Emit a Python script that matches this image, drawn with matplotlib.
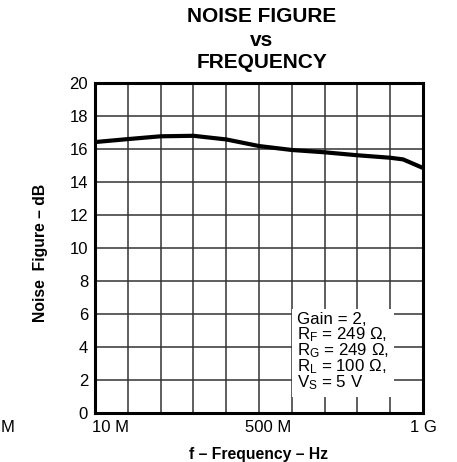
import matplotlib
matplotlib.use("Agg")
import matplotlib.pyplot as plt
import numpy as np
from matplotlib.transforms import ScaledTranslation

plt.rcParams['font.family'] = ['Liberation Sans', 'DejaVu Sans']
plt.rcParams['mathtext.fontset'] = 'custom'
plt.rcParams['mathtext.rm'] = 'Liberation Sans'
plt.rcParams['mathtext.it'] = 'Liberation Sans'
plt.rcParams['mathtext.bf'] = 'Liberation Sans:bold'

# Data (frequency in MHz, noise figure in dB)
freq_mhz = [10, 109, 208, 307, 406, 505, 604, 703, 802, 901, 940, 1000]
noise_db = [16.42, 16.6, 16.77, 16.8, 16.58, 16.18, 15.94, 15.8, 15.62, 15.47, 15.37, 14.85]

xtick_vals = [10, 500, 1000]
xtick_labels = ["10 M", "500 M", "1 G"]
ytick_vals = list(range(0, 21, 2))

fig = plt.figure(figsize=(4.57, 4.62), dpi=100)
ax = fig.add_axes([95/457, 1 - 413/462, 328/457, 330/462])

ax.plot(freq_mhz, noise_db, color='black', lw=3.0, solid_capstyle='butt', zorder=3)

ax.set_xlim(10, 1000)
ax.set_ylim(0, 20)
for xv in np.linspace(10, 1000, 11)[1:-1]:
    ax.axvline(xv, color='#333333', lw=1.1, zorder=1)
for yv in ytick_vals[1:-1]:
    ax.axhline(yv, color='#333333', lw=1.1, zorder=1)

ax.set_yticks(ytick_vals)
ax.set_xticks(xtick_vals)
ax.set_xticklabels(xtick_labels)
ax.tick_params(length=0, labelsize=12, pad=5)
ax.tick_params(axis='x', pad=5)
# shift first two x labels slightly right as in reference
offs = [0.15, 0.107, 0]
for lab, o in zip(ax.get_xticklabels(), offs):
    lab.set_transform(lab.get_transform() + ScaledTranslation(o, 0, fig.dpi_scale_trans))

for s in ax.spines.values():
    s.set_linewidth(2.2)

ax.set_xlabel("f – Frequency – Hz", fontsize=11.3, fontweight='bold', labelpad=9)
ax.set_ylabel("Noise  Figure – dB", fontsize=11.3, fontweight='bold')
ax.yaxis.set_label_coords(-0.142, 0.485)

tx = 262/457
fig.text(tx, 1 - 17/462, "NOISE FIGURE", ha='center', va='center', fontsize=15, fontweight='bold')
fig.text(tx, 1 - 40/462, "vs", ha='center', va='center', fontsize=15, fontweight='bold')
fig.text(tx, 1 - 62/462, "FREQUENCY", ha='center', va='center', fontsize=15, fontweight='bold')

ann = ("Gain = 2,\n"
       "R$_\\mathregular{F}$ = 249 Ω,\n"
       "R$_\\mathregular{G}$ = 249 Ω,\n"
       "R$_\\mathregular{L}$ = 100 Ω,\n"
       "V$_\\mathregular{S}$ = 5 V")
ax.text(0.615, 0.305, ann, transform=ax.transAxes, ha='left', va='top', fontsize=12.2,
        linespacing=0.82, zorder=4,
        bbox=dict(boxstyle='square,pad=0.3', fc='white', ec='none'))

fig.text(0.5/457, 1 - 427/462, "M", ha='left', va='center', fontsize=12)

fig.savefig("out.png", dpi=100)
